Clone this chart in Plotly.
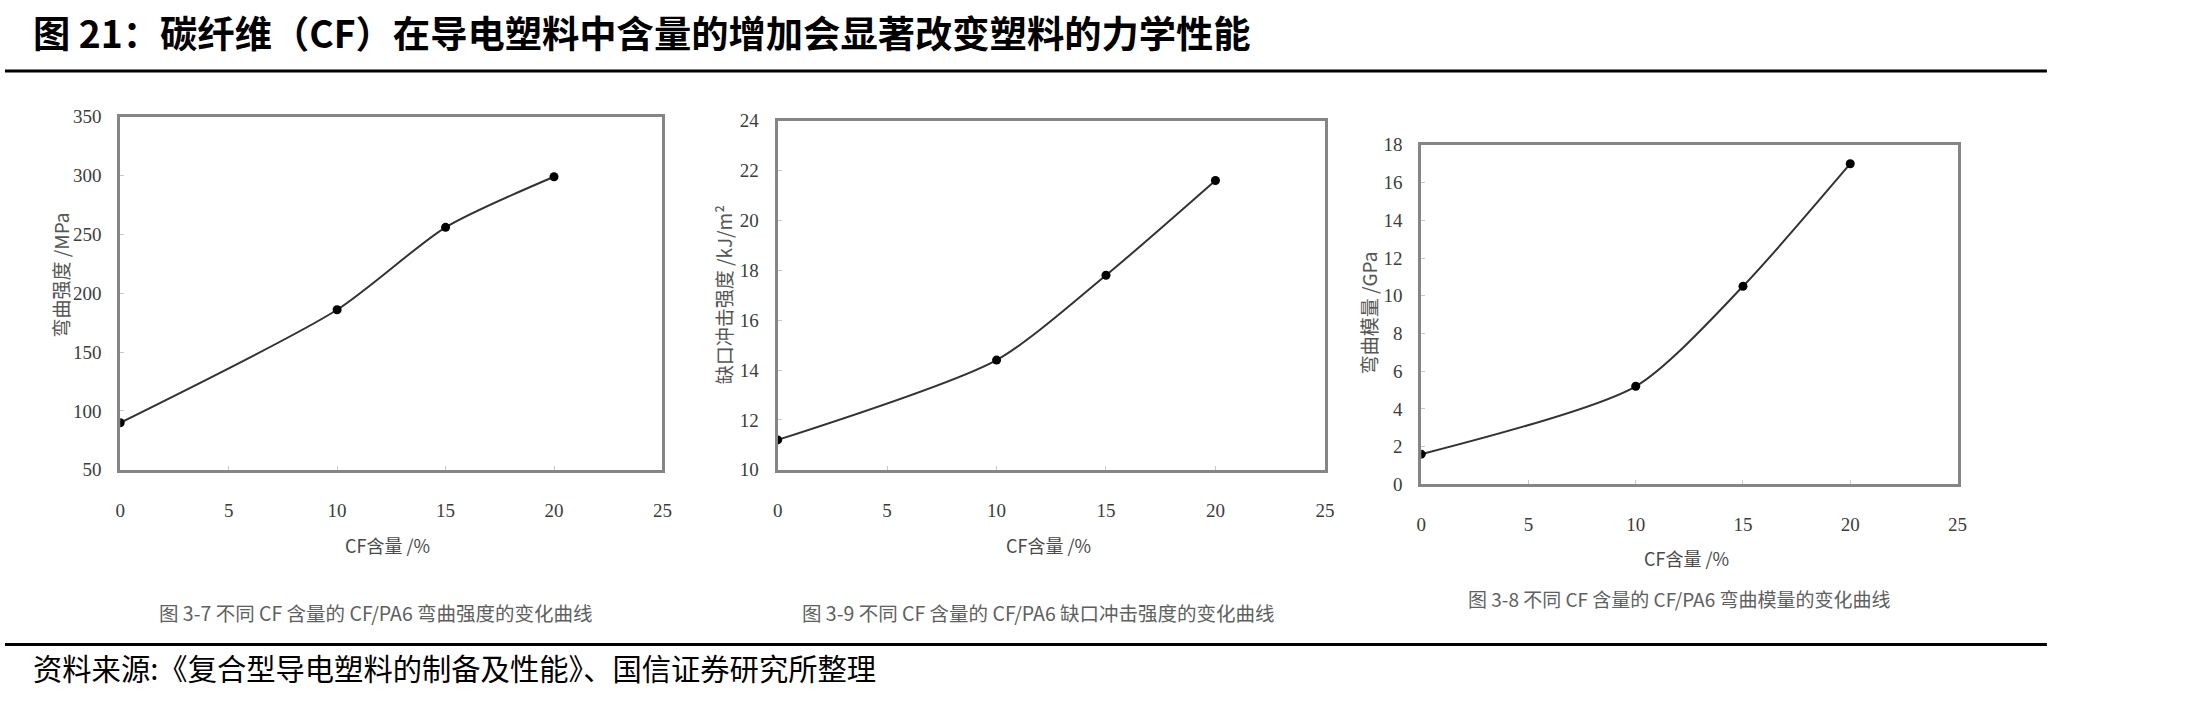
import plotly.graph_objects as go

W, H = 2186, 702

# ---------------- data ----------------
cf_content = [0, 10, 15, 20]
flex_strength = [90, 186, 256, 299]        # MPa
impact_strength = [11.2, 14.4, 17.8, 21.6]  # kJ/m2
flex_modulus = [1.6, 5.2, 10.5, 17.0]      # GPa

x_ticks = [0, 5, 10, 15, 20, 25]
y1_ticks = [50, 100, 150, 200, 250, 300, 350]
y2_ticks = [10, 12, 14, 16, 18, 20, 22, 24]
y3_ticks = [0, 2, 4, 6, 8, 10, 12, 14, 16, 18]

title_text = "图 21：碳纤维（CF）在导电塑料中含量的增加会显著改变塑料的力学性能"
source_text = "资料来源:《复合型导电塑料的制备及性能》、国信证券研究所整理"
x_title = "CF含量 /%"
y_titles = ["弯曲强度 /MPa", "缺口冲击强度 /kJ/m²", "弯曲模量 /GPa"]
captions = [
    "图 3-7 不同 CF 含量的 CF/PA6 弯曲强度的变化曲线",
    "图 3-9 不同 CF 含量的 CF/PA6 缺口冲击强度的变化曲线",
    "图 3-8 不同 CF 含量的 CF/PA6 弯曲模量的变化曲线",
]

# ---------------- layout helpers ----------------
def px_x(v):
    return v / W

def px_y(v):
    return 1 - v / H

# plot boxes in pixels (left, right, top, bottom)
boxes = [
    (116, 662, 110, 474),
    (778, 1329, 114, 474),
    (1426, 1966, 139, 489),
]

series = [flex_strength, impact_strength, flex_modulus]
yticks = [y1_ticks, y2_ticks, y3_ticks]
yranges = [[50, 350], [10, 24], [0, 18]]

SERIF = "Liberation Serif, Times New Roman, serif"
CJK = "Noto Sans CJK SC, sans-serif"

fig = go.Figure()

layout = dict(
    width=W, height=H,
    margin=dict(l=0, r=0, t=0, b=0),
    paper_bgcolor="white", plot_bgcolor="white",
    showlegend=False,
)

ytitle_pos = [(56, 273), (723, 294), (1373, 312)]
xtitle_pos = [(385, 552), (1051, 552), (1693, 565)]
cap_pos = [(374, 621), (1041, 621), (1686, 607)]
cap_size = [19.5, 19.5, 19]

annotations = []
for i, (l, r, t, b) in enumerate(boxes):
    n = "" if i == 0 else str(i + 1)
    fig.add_trace(go.Scatter(
        x=cf_content, y=series[i],
        mode="lines+markers",
        line=dict(color="#333333", width=2, shape="spline", smoothing=0.7),
        marker=dict(color="black", size=9),
        xaxis="x" + n, yaxis="y" + n,
        hoverinfo="skip",
    ))
    axis_common = dict(
        showline=True, linecolor="#858585", linewidth=3, mirror=True,
        showgrid=False, zeroline=False,
        ticks="inside", ticklen=4, tickcolor="#c8c8c8", tickwidth=1,
        tickfont=dict(family=SERIF, size=19, color="#3c3c3c"),
    )
    layout["xaxis" + n] = dict(
        axis_common,
        domain=[px_x(l), px_x(r)], range=[0, 25],
        tickmode="array", tickvals=x_ticks,
        anchor="y" + n, ticklabelstandoff=21,
    )
    layout["yaxis" + n] = dict(
        axis_common,
        domain=[px_y(b), px_y(t)], range=yranges[i],
        tickmode="array", tickvals=yticks[i],
        anchor="x" + n, ticklabelstandoff=12,
    )
    # x axis title
    annotations.append(dict(
        x=px_x(xtitle_pos[i][0]), y=px_y(xtitle_pos[i][1]),
        xref="paper", yref="paper",
        text=x_title, showarrow=False, xanchor="center", yanchor="middle",
        font=dict(family=CJK, size=18, color="#4a4a4a"),
    ))
    # y axis title (rotated)
    annotations.append(dict(
        x=px_x(ytitle_pos[i][0]), y=px_y(ytitle_pos[i][1]),
        xref="paper", yref="paper",
        text=y_titles[i], showarrow=False, textangle=-90,
        xanchor="center", yanchor="middle",
        font=dict(family=CJK, size=19, color="#555555"),
    ))
    # caption
    annotations.append(dict(
        x=px_x(cap_pos[i][0]), y=px_y(cap_pos[i][1]),
        xref="paper", yref="paper",
        text=captions[i], showarrow=False, xanchor="center", yanchor="middle",
        font=dict(family=CJK, size=cap_size[i], color="#606060"),
    ))

# main title
annotations.append(dict(
    x=px_x(26), y=px_y(23), xref="paper", yref="paper",
    text="<b>" + title_text + "</b>", showarrow=False,
    xanchor="left", yanchor="middle",
    font=dict(family=CJK, size=37.3, color="black"),
))
# source
annotations.append(dict(
    x=px_x(26), y=px_y(677), xref="paper", yref="paper",
    text=source_text, showarrow=False,
    xanchor="left", yanchor="middle",
    font=dict(family=CJK, size=29.3, color="black"),
))

layout["annotations"] = annotations
layout["shapes"] = [
    dict(type="line", xref="paper", yref="paper",
         x0=0, x1=px_x(2056), y0=px_y(63), y1=px_y(63),
         line=dict(color="black", width=3)),
    dict(type="line", xref="paper", yref="paper",
         x0=0, x1=px_x(2056), y0=px_y(654), y1=px_y(654),
         line=dict(color="black", width=3)),
]

fig.update_layout(**layout)
fig.write_html("out.html")
